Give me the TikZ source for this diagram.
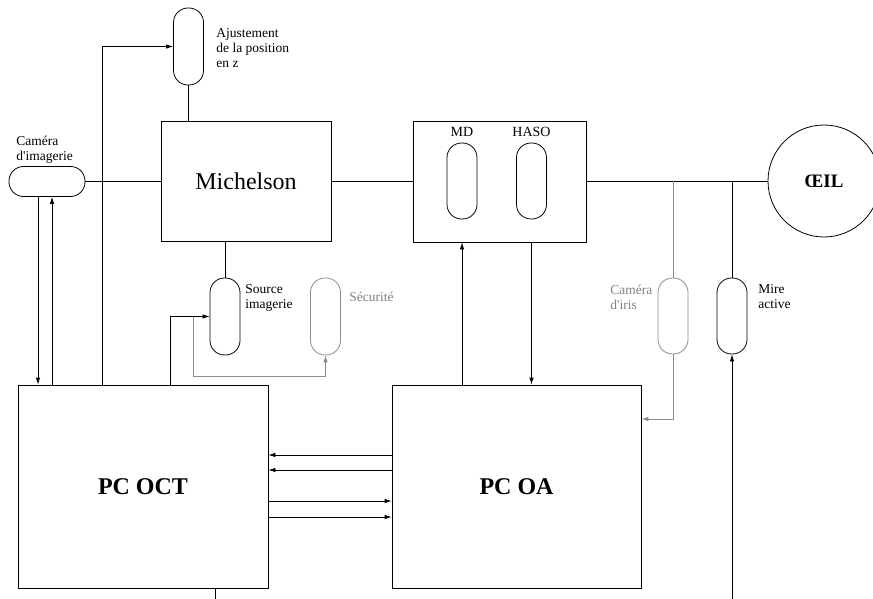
\documentclass[tikz,border=0pt]{standalone}
\usepackage{fontspec}
\setmainfont{Liberation Serif}
\usetikzlibrary{arrows.meta}
\begin{document}
\begin{tikzpicture}[x=1pt,y=-1pt, line width=0.8pt,
  box/.style={draw, rectangle, inner sep=0pt},
  vcaps/.style={draw, rectangle, rounded corners=14.5pt, minimum width=30pt, minimum height=77pt, inner sep=0pt},
  hcaps/.style={draw, rectangle, rounded corners=14.5pt, minimum width=76pt, minimum height=30pt, inner sep=0pt},
  lbl/.style={font=\fontsize{13.5}{15}\selectfont, align=left, anchor=west, inner sep=0pt},
  arr/.style={-{Latex[length=7pt,width=4.5pt]}},
  grayline/.style={draw=black!45},
  graytext/.style={text=black!50}
]
\useasboundingbox (0,0) rectangle (873,599);

% nodes
\node[vcaps] (aj) at (188.5,46.5) {};
\node[box, minimum width=170pt, minimum height=120pt, font=\fontsize{24}{28}\selectfont] (mich) at (246,181) {Michelson};
\node[hcaps] (cam) at (47,181.5) {};
\node[vcaps] (src) at (225,316.5) {};
\node[vcaps, grayline] (sec) at (325.5,316.5) {};
\node[box, minimum width=250pt, minimum height=203pt, font=\fontsize{24}{28}\selectfont\bfseries] (oct) at (143,486.5) {PC OCT};
\node[box, minimum width=249pt, minimum height=203pt, font=\fontsize{24}{28}\selectfont\bfseries] (oa) at (516.5,486.5) {PC OA};
\node[box, minimum width=173pt, minimum height=121pt] (ao) at (499.5,181.5) {};
\node[vcaps, minimum height=76pt] (md) at (462,181) {};
\node[vcaps, minimum height=76pt] (haso) at (531.5,181) {};
\node[circle, draw, minimum size=112pt, inner sep=0pt, font=\fontsize{19}{22}\selectfont\bfseries] (eye) at (824,181) {ŒIL};
\node[vcaps, grayline, minimum height=76pt] (iris) at (673,316) {};
\node[vcaps, minimum height=76pt] (mire) at (732,316) {};

% labels
\node[lbl] (ajl) at (216,48) {Ajustement\\de la position\\en z};
\node[lbl] (caml) at (16,150) {Caméra\\d\textquotesingle imagerie};
\node[lbl] (srcl) at (245,298) {Source\\imagerie};
\node[lbl, graytext] (secl) at (349,297) {Sécurité};
\node[lbl, graytext] (irisl) at (610,297) {Caméra\\d\textquotesingle iris};
\node[lbl] (mirel) at (758,297) {Mire\\active};
\node[font=\fontsize{14}{16}\selectfont, inner sep=0pt] (mdl) at (462,132) {MD};
\node[font=\fontsize{14}{16}\selectfont, inner sep=0pt] (hasol) at (531.5,132) {HASO};

% coordinates
\coordinate (g1) at (193,316.5);
\coordinate (g2) at (193,376);
\coordinate (ic) at (673,419);
\coordinate (mb) at (732,599);
\coordinate (ob) at (215,599);

% connectors
\draw (aj.south) -- (aj.south |- mich.north);
\draw[arr] ([xshift=85pt]oct.north west) |- (aj.west);
\draw (cam.east) -- (cam.east -| mich.west);
\draw[arr] ([xshift=-9pt]cam.south) -- ([xshift=-9pt]cam.south |- oct.north);
\draw[arr] ([xshift=5pt]cam.south |- oct.north) -- ([xshift=5pt]cam.south);
\draw (mich.south -| src.north) -- (src.north);
\draw[arr] ([xshift=153pt]oct.north west) |- (src.west);
\draw[grayline, arr] (g1) -- (g2) -| (sec.south);
\draw (mich.east) -- (mich.east -| ao.west);
\draw (ao.east |- eye.west) -- (eye.west);
\draw[grayline] (iris.north |- eye.west) -- (iris.north);
\draw (mire.north |- eye.west) -- (mire.north);
\draw[grayline, arr] (iris.south) -- (ic) -- (ic -| oa.east);
\draw[arr] (mb) -- (mire.south);
\draw[arr] (md.south |- oa.north) -- (md.south |- ao.south);
\draw[arr] (haso.south |- ao.south) -- (haso.south |- oa.north);
\draw[arr] (oa.west |- 0,455) -- (oct.east |- 0,455);
\draw[arr] (oa.west |- 0,470) -- (oct.east |- 0,470);
\draw[arr] (oct.east |- 0,501) -- (oa.west |- 0,501);
\draw[arr] (oct.east |- 0,517) -- (oa.west |- 0,517);
\draw (oct.south -| ob) -- (ob);
\end{tikzpicture}
\end{document}
